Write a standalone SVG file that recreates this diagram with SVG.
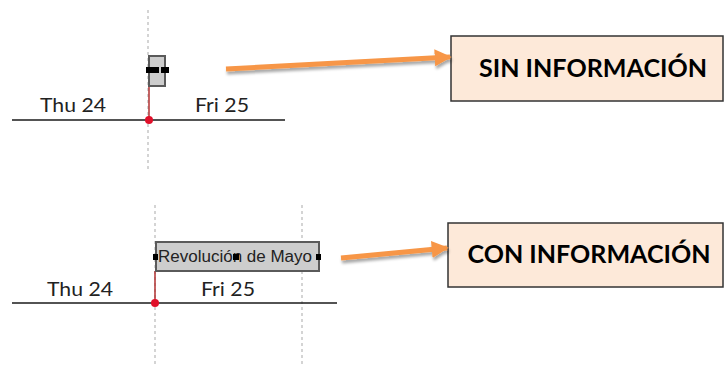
<svg xmlns="http://www.w3.org/2000/svg" width="725" height="367" viewBox="0 0 725 367">
<defs>
<style>
.grid{stroke:#b8b8b8;stroke-width:1.2;stroke-dasharray:3 3;fill:none}
.axis{stroke:#1a1a1a;stroke-width:1.5}
.stem{stroke:#b03030;stroke-width:1.5}
.dot{fill:#e0102a}
.day{font-family:Lato,"Liberation Sans",sans-serif;font-size:19px;fill:#222}
.ev{fill:#cdcdcd;stroke:#5a5a5a;stroke-width:2}
.callout{fill:#fde9d9;stroke:#333;stroke-width:1.5}
.ctext{font-family:Lato,"Liberation Sans",sans-serif;font-weight:bold;font-size:25px;fill:#000}
.arrow{stroke:#f79646;stroke-width:5;fill:none}
.handle{fill:#000}
</style>
<marker id="ah" viewBox="0 0 10 10" refX="9" refY="5" markerWidth="3.4" markerHeight="3.4" orient="auto" markerUnits="strokeWidth">
<path d="M0,0 L10,5 L0,10 z" fill="#f79646"/>
</marker>
<filter id="sh" x="-10%" y="-50%" width="120%" height="250%">
<feGaussianBlur in="SourceAlpha" stdDeviation="1.5"/>
<feOffset dx="1" dy="3"/>
<feComponentTransfer><feFuncA type="linear" slope="0.35"/></feComponentTransfer>
<feMerge><feMergeNode/><feMergeNode in="SourceGraphic"/></feMerge>
</filter>
</defs>

<g id="timeline-top">
<line class="grid" x1="148" y1="10" x2="148" y2="170"/>
<line class="axis" x1="12" y1="120" x2="285" y2="120"/>
<text class="day" x="40" y="112" textLength="66" lengthAdjust="spacingAndGlyphs">Thu 24</text>
<text class="day" x="195" y="112" textLength="54" lengthAdjust="spacingAndGlyphs">Fri 25</text>
</g>
<g id="event-empty">
<line class="stem" x1="149" y1="86" x2="149" y2="120"/>
<rect class="ev" x="149" y="56" width="16" height="30"/>
<rect class="handle" x="146" y="67" width="13" height="6"/>
<rect class="handle" x="161" y="67" width="8" height="6"/>
<circle class="dot" cx="149" cy="120" r="4"/>
</g>

<g id="timeline-bottom">
<line class="grid" x1="155" y1="205" x2="155" y2="367"/>
<line class="grid" x1="302" y1="205" x2="302" y2="367"/>
<line class="axis" x1="12" y1="303" x2="337" y2="303"/>
<text class="day" x="47" y="296" textLength="66" lengthAdjust="spacingAndGlyphs">Thu 24</text>
<text class="day" x="201" y="296" textLength="54" lengthAdjust="spacingAndGlyphs">Fri 25</text>
</g>
<g id="event-info">
<line class="stem" x1="155" y1="271" x2="155" y2="303"/>
<rect class="ev" x="156" y="242" width="163" height="29"/>
<text x="158" y="262" font-family="Liberation Sans,Arial,sans-serif" font-size="16" fill="#222" textLength="154" lengthAdjust="spacingAndGlyphs">Revolución de Mayo</text>
<rect class="handle" x="153" y="254" width="5" height="6"/>
<rect class="handle" x="233" y="254" width="6" height="6"/>
<rect class="handle" x="316" y="254" width="5" height="6"/>
<circle class="dot" cx="155" cy="303" r="4"/>
</g>

<g id="callout-sin">
<rect class="callout" x="451" y="36" width="272" height="65"/>
<text class="ctext" x="593" y="77" text-anchor="middle" textLength="228" lengthAdjust="spacingAndGlyphs">SIN INFORMACIÓN</text>
</g>
<g id="callout-con">
<rect class="callout" x="448" y="223" width="275" height="64"/>
<text class="ctext" x="589" y="263" text-anchor="middle" textLength="243" lengthAdjust="spacingAndGlyphs">CON INFORMACIÓN</text>
</g>

<g id="connectors" filter="url(#sh)">
<line class="arrow" x1="226" y1="69" x2="450" y2="57" marker-end="url(#ah)"/>
<line class="arrow" x1="341" y1="258" x2="447" y2="248" marker-end="url(#ah)"/>
</g>
</svg>
